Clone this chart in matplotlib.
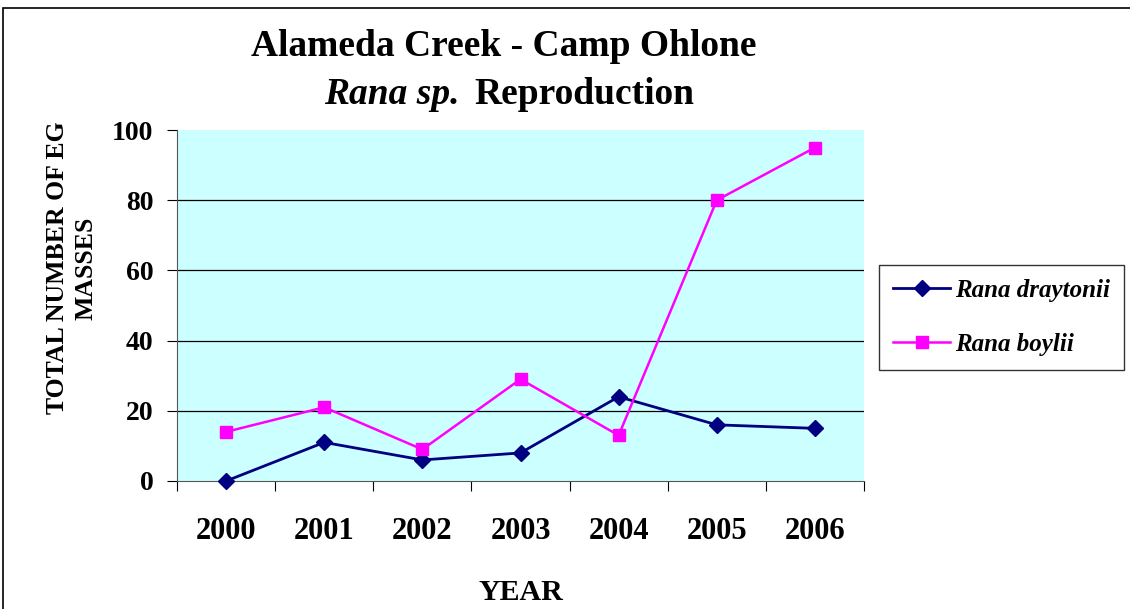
import matplotlib
matplotlib.use("Agg")
import matplotlib.pyplot as plt
from matplotlib.patches import Rectangle

plt.rcParams['font.family'] = ['Liberation Serif', 'DejaVu Serif']

years = ['2000', '2001', '2002', '2003', '2004', '2005', '2006']
draytonii = [0, 11, 6, 8, 24, 16, 15]
boylii = [14, 21, 9, 29, 13, 80, 95]
yticks = [0, 20, 40, 60, 80, 100]

W, H = 1130, 609
fig = plt.figure(figsize=(W / 100, H / 100), dpi=100)
fig.patch.set_facecolor('white')

# outer chart border (cropped at right/bottom)
fig.patches.append(Rectangle((3 / W, -0.1), 1.2, 1 - 8 / H + 0.1, transform=fig.transFigure,
                             fill=False, edgecolor='black', linewidth=1.2))

ax = fig.add_axes([177 / W, 1 - 481 / H, (864 - 177) / W, (481 - 130) / H])
ax.set_facecolor('#CCFFFF')

x = list(range(len(years)))
ax.plot(x, draytonii, color='#000080', marker='D', markersize=8, linewidth=2,
        label='Rana draytonii', clip_on=False, zorder=3)
ax.plot(x, boylii, color='#FF00FF', marker='s', markersize=9, linewidth=1.8,
        label='Rana boylii', clip_on=False, zorder=3)

ax.set_xlim(-0.5, 6.5)
ax.set_ylim(0, 100)
ax.set_yticks(yticks)
for v in yticks[1:-1]:
    ax.axhline(v, color='black', linewidth=0.9, zorder=1)

ax.set_xticks([i - 0.5 for i in range(len(years) + 1)])
ax.set_xticklabels([])
ax.set_xticks(x, minor=True)
ax.set_xticklabels(years, minor=True, fontsize=22, fontweight='bold')
ax.tick_params(axis='x', which='minor', length=0, pad=26)
ax.tick_params(axis='x', which='major', length=7, direction='out', color='black')
ax.tick_params(axis='y', length=7, direction='out', labelsize=20, pad=10)
for lab in ax.get_yticklabels():
    lab.set_fontweight('bold')

ax.spines['top'].set_visible(False)
ax.spines['right'].set_visible(False)
ax.spines['left'].set_color('#555555')
ax.spines['bottom'].set_color('#555555')

fig.text(72 / W, 1 - 268 / H, 'TOTAL NUMBER OF EG\nMASSES', fontsize=18.5, fontweight='bold',
         rotation=90, ha='center', va='center', multialignment='center', linespacing=1.3)
fig.text(521 / W, 1 - 592 / H, 'YEAR', fontsize=21.5, fontweight='bold', ha='center', va='center')

fig.text(504 / W, 1 - 46 / H, 'Alameda Creek - Camp Ohlone', fontsize=27, fontweight='bold',
         ha='center', va='center')
fig.text(460 / W, 1 - 95 / H, 'Rana sp.', fontsize=27, fontweight='bold', fontstyle='italic',
         ha='right', va='center')
fig.text(474 / W, 1 - 95 / H, 'Reproduction', fontsize=27, fontweight='bold',
         ha='left', va='center')

leg = fig.legend(loc='upper left', bbox_to_anchor=(879 / W, 1 - 265 / H), frameon=True,
                 fancybox=False, edgecolor='black', prop={'size': 18, 'weight': 'bold', 'style': 'italic'},
                 handlelength=2.3, labelspacing=1.25, borderpad=0.55, handletextpad=0.2,
                 borderaxespad=0)
leg.get_frame().set_linewidth(1.0)

fig.savefig('out.png', dpi=100)
